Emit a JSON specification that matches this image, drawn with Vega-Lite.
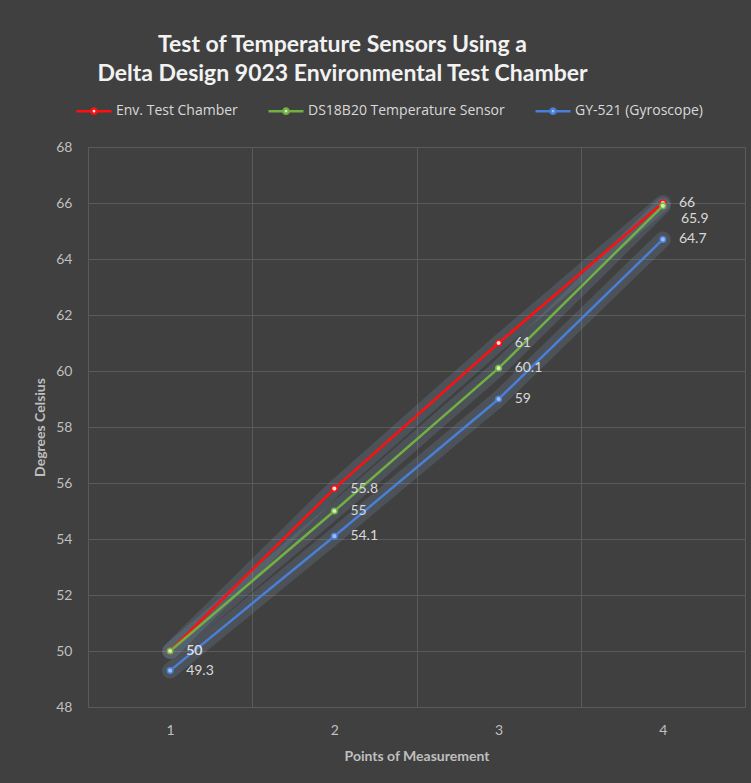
{
  "$schema": "https://vega.github.io/schema/vega-lite/v6.json",
  "width": 657,
  "height": 560,
  "autosize": "none",
  "padding": {"left": 88, "top": 147, "right": 6, "bottom": 76},
  "background": "#404040",
  "title": {
    "text": ["Test of Temperature Sensors Using a", "Delta Design 9023 Environmental Test Chamber"],
    "font": "Lato",
    "fontSize": 23,
    "fontWeight": "bold",
    "lineHeight": 29,
    "color": "#f2f2f2",
    "anchor": "middle",
    "dx": -74,
    "offset": 6
  },
  "data": {
    "values": [
      {"point": 1, "series": "Env. Test Chamber", "value": 50},
      {"point": 2, "series": "Env. Test Chamber", "value": 55.8},
      {"point": 3, "series": "Env. Test Chamber", "value": 61},
      {"point": 4, "series": "Env. Test Chamber", "value": 66},
      {"point": 1, "series": "DS18B20 Temperature Sensor", "value": 50},
      {"point": 2, "series": "DS18B20 Temperature Sensor", "value": 55},
      {"point": 3, "series": "DS18B20 Temperature Sensor", "value": 60.1},
      {"point": 4, "series": "DS18B20 Temperature Sensor", "value": 65.9},
      {"point": 1, "series": "GY-521 (Gyroscope)", "value": 49.3},
      {"point": 2, "series": "GY-521 (Gyroscope)", "value": 54.1},
      {"point": 3, "series": "GY-521 (Gyroscope)", "value": 59},
      {"point": 4, "series": "GY-521 (Gyroscope)", "value": 64.7}
    ]
  },
  "encoding": {
    "x": {
      "field": "point",
      "type": "ordinal",
      "scale": {"type": "band", "paddingInner": 0, "paddingOuter": 0},
      "axis": {
        "title": "Points of Measurement",
        "labelAngle": 0,
        "tickBand": "extent",
        "grid": true,
        "ticks": false,
        "domain": false,
        "labelPadding": 16,
        "titlePadding": 12
      }
    },
    "y": {
      "field": "value",
      "type": "quantitative",
      "scale": {"domain": [48, 68], "nice": false, "zero": false},
      "axis": {
        "title": "Degrees Celsius",
        "values": [48, 50, 52, 54, 56, 58, 60, 62, 64, 66, 68],
        "ticks": false,
        "domain": false,
        "labelPadding": 16,
        "titlePadding": 8
      }
    }
  },
  "layer": [
    {
      "mark": {"type": "line", "strokeWidth": 16, "opacity": 0.16, "color": "#8fb3dc", "strokeCap": "round"},
      "encoding": {"detail": {"field": "series"}}
    },
    {
      "mark": {"type": "line", "strokeWidth": 2.5},
      "encoding": {
        "color": {
          "field": "series",
          "type": "nominal",
          "scale": {
            "domain": ["Env. Test Chamber", "DS18B20 Temperature Sensor", "GY-521 (Gyroscope)"],
            "range": ["#ff1010", "#72b043", "#4a7fd6"]
          },
          "legend": {
            "title": null,
            "orient": "none",
            "legendX": -13,
            "legendY": -55,
            "direction": "horizontal",
            "symbolType": "M-1,0H-0.15M0.15,0H1M-0.15,0A0.15,0.15 0 1,0 0.15,0A0.15,0.15 0 1,0 -0.15,0",
            "symbolSize": 1225,
            "symbolStrokeWidth": 2.5,
            "labelFontSize": 14,
            "labelColor": "#d9d9d9",
            "labelFont": "Open Sans",
            "labelLimit": 0,
            "labelOffset": 3,
            "columnPadding": 25
          }
        }
      }
    },
    {
      "mark": {"type": "point", "shape": "circle", "size": 32, "filled": false, "strokeWidth": 1.5, "opacity": 1},
      "encoding": {
        "color": {"field": "series", "type": "nominal"},
        "fill": {
          "field": "series",
          "type": "nominal",
          "scale": {
            "domain": ["Env. Test Chamber", "DS18B20 Temperature Sensor", "GY-521 (Gyroscope)"],
            "range": ["#ffe0e0", "#d2ebb8", "#9dbcf2"]
          },
          "legend": null
        }
      }
    },
    {
      "transform": [{"filter": "!(datum.series == 'DS18B20 Temperature Sensor' && datum.point == 4)"}],
      "mark": {"type": "text", "align": "left", "baseline": "middle", "dx": 16, "fontSize": 14, "font": "Lato", "color": "#d9d9d9"},
      "encoding": {"text": {"field": "value", "type": "quantitative"}}
    },
    {
      "transform": [{"filter": "datum.series == 'DS18B20 Temperature Sensor' && datum.point == 4"}],
      "mark": {"type": "text", "align": "left", "baseline": "middle", "dx": 18, "dy": 13, "fontSize": 14, "font": "Lato", "color": "#d9d9d9"},
      "encoding": {"text": {"field": "value", "type": "quantitative"}}
    }
  ],
  "config": {
    "font": "Lato",
    "view": {"stroke": "#5a5a5a", "strokeWidth": 1},
    "axis": {
      "gridColor": "#5a5a5a",
      "gridWidth": 1,
      "labelColor": "#bfbfbf",
      "labelFontSize": 14,
      "labelFont": "Lato",
      "titleColor": "#bfbfbf",
      "titleFontSize": 14,
      "titleFont": "Lato",
      "titleFontWeight": "bold"
    }
  }
}
